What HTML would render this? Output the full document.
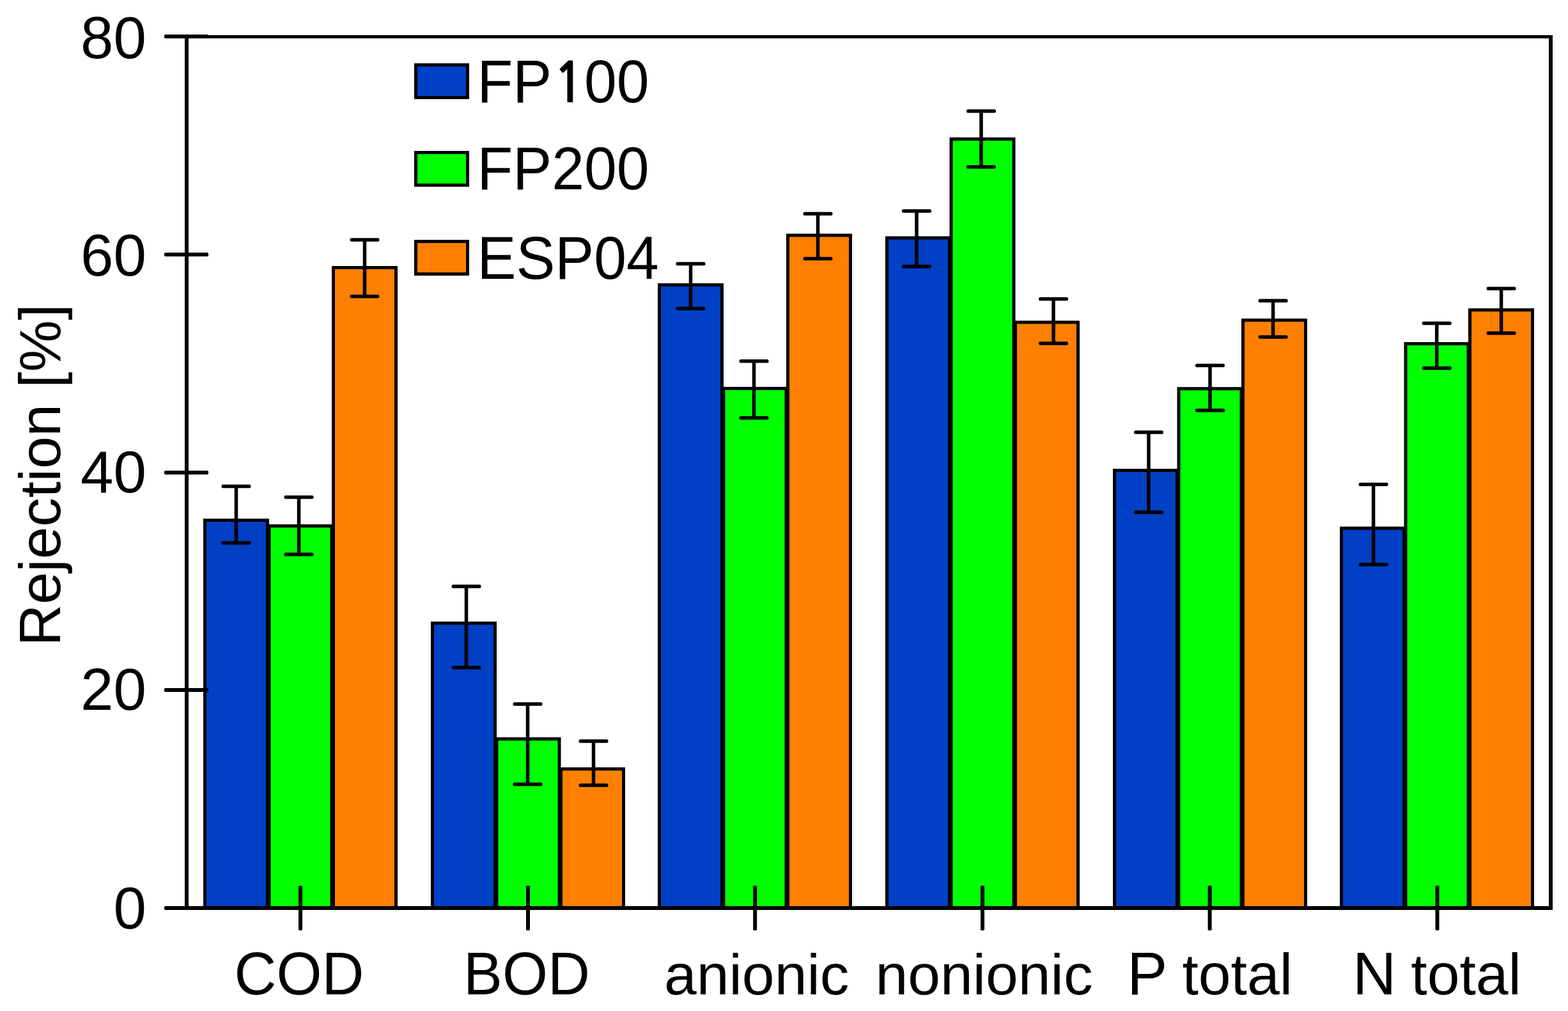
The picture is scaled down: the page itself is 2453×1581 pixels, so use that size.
<!DOCTYPE html>
<html><head><meta charset="utf-8"><title>Rejection chart</title>
<style>
html,body{margin:0;padding:0;background:#fff;}
body{width:2453px;height:1581px;overflow:hidden;}
svg{display:block;}
text{font-family:"Liberation Sans",Arial,Helvetica,sans-serif;fill:#000;}
</style></head><body>
<svg width="2453" height="1581" viewBox="0 0 2453 1581">
<rect x="0" y="0" width="2453" height="1581" fill="#fff"/>
<g stroke="#000" stroke-width="5">
<rect x="320.5" y="813.5" width="98.0" height="606.5" fill="#0040c4"/>
<rect x="421.0" y="822.5" width="98.0" height="597.5" fill="#00ff00"/>
<rect x="521.5" y="418.5" width="98.0" height="1001.5" fill="#ff8000"/>
<rect x="676.5" y="974.5" width="98.0" height="445.5" fill="#0040c4"/>
<rect x="777.0" y="1155.5" width="98.0" height="264.5" fill="#00ff00"/>
<rect x="877.5" y="1202.5" width="98.0" height="217.5" fill="#ff8000"/>
<rect x="1031.5" y="445.5" width="98.0" height="974.5" fill="#0040c4"/>
<rect x="1132.0" y="607.5" width="98.0" height="812.5" fill="#00ff00"/>
<rect x="1232.5" y="368.0" width="98.0" height="1052.0" fill="#ff8000"/>
<rect x="1387.5" y="372.0" width="98.0" height="1048.0" fill="#0040c4"/>
<rect x="1488.0" y="217.4" width="98.0" height="1202.6" fill="#00ff00"/>
<rect x="1588.5" y="504.0" width="98.0" height="916.0" fill="#ff8000"/>
<rect x="1743.5" y="735.6" width="98.0" height="684.4" fill="#0040c4"/>
<rect x="1844.0" y="607.8" width="98.0" height="812.2" fill="#00ff00"/>
<rect x="1944.5" y="500.7" width="98.0" height="919.3" fill="#ff8000"/>
<rect x="2098.5" y="826.0" width="98.0" height="594.0" fill="#0040c4"/>
<rect x="2199.0" y="537.5" width="98.0" height="882.5" fill="#00ff00"/>
<rect x="2299.5" y="484.7" width="98.0" height="935.3" fill="#ff8000"/>
</g>
<g stroke="#000" stroke-width="5.5" fill="none">
<path d="M369.5 760.5V849.0"/>
<rect x="346.5" y="757.75" width="46" height="5.5" rx="2.5" fill="#000" stroke="none"/>
<rect x="346.5" y="846.25" width="46" height="5.5" rx="2.5" fill="#000" stroke="none"/>
<path d="M467.5 777.5V867.0"/>
<rect x="444.5" y="774.75" width="46" height="5.5" rx="2.5" fill="#000" stroke="none"/>
<rect x="444.5" y="864.25" width="46" height="5.5" rx="2.5" fill="#000" stroke="none"/>
<path d="M570.5 375.0V463.5"/>
<rect x="547.5" y="372.25" width="46" height="5.5" rx="2.5" fill="#000" stroke="none"/>
<rect x="547.5" y="460.75" width="46" height="5.5" rx="2.5" fill="#000" stroke="none"/>
<path d="M729.5 917.0V1044.0"/>
<rect x="706.5" y="914.25" width="46" height="5.5" rx="2.5" fill="#000" stroke="none"/>
<rect x="706.5" y="1041.25" width="46" height="5.5" rx="2.5" fill="#000" stroke="none"/>
<path d="M825.5 1101.0V1226.5"/>
<rect x="802.5" y="1098.25" width="46" height="5.5" rx="2.5" fill="#000" stroke="none"/>
<rect x="802.5" y="1223.75" width="46" height="5.5" rx="2.5" fill="#000" stroke="none"/>
<path d="M928.5 1159.0V1228.0"/>
<rect x="905.5" y="1156.25" width="46" height="5.5" rx="2.5" fill="#000" stroke="none"/>
<rect x="905.5" y="1225.25" width="46" height="5.5" rx="2.5" fill="#000" stroke="none"/>
<path d="M1080.5 412.5V482.5"/>
<rect x="1057.5" y="409.75" width="46" height="5.5" rx="2.5" fill="#000" stroke="none"/>
<rect x="1057.5" y="479.75" width="46" height="5.5" rx="2.5" fill="#000" stroke="none"/>
<path d="M1179.5 564.7V653.5"/>
<rect x="1156.5" y="561.95" width="46" height="5.5" rx="2.5" fill="#000" stroke="none"/>
<rect x="1156.5" y="650.75" width="46" height="5.5" rx="2.5" fill="#000" stroke="none"/>
<path d="M1279.5 334.3V404.5"/>
<rect x="1256.5" y="331.55" width="46" height="5.5" rx="2.5" fill="#000" stroke="none"/>
<rect x="1256.5" y="401.75" width="46" height="5.5" rx="2.5" fill="#000" stroke="none"/>
<path d="M1434.0 330.0V416.7"/>
<rect x="1411.0" y="327.25" width="46" height="5.5" rx="2.5" fill="#000" stroke="none"/>
<rect x="1411.0" y="413.95" width="46" height="5.5" rx="2.5" fill="#000" stroke="none"/>
<path d="M1535.0 173.8V261.0"/>
<rect x="1512.0" y="171.05" width="46" height="5.5" rx="2.5" fill="#000" stroke="none"/>
<rect x="1512.0" y="258.25" width="46" height="5.5" rx="2.5" fill="#000" stroke="none"/>
<path d="M1648.0 467.5V537.0"/>
<rect x="1625.0" y="464.75" width="46" height="5.5" rx="2.5" fill="#000" stroke="none"/>
<rect x="1625.0" y="534.25" width="46" height="5.5" rx="2.5" fill="#000" stroke="none"/>
<path d="M1797.0 676.0V801.0"/>
<rect x="1774.0" y="673.25" width="46" height="5.5" rx="2.5" fill="#000" stroke="none"/>
<rect x="1774.0" y="798.25" width="46" height="5.5" rx="2.5" fill="#000" stroke="none"/>
<path d="M1893.0 571.5V641.7"/>
<rect x="1870.0" y="568.75" width="46" height="5.5" rx="2.5" fill="#000" stroke="none"/>
<rect x="1870.0" y="638.95" width="46" height="5.5" rx="2.5" fill="#000" stroke="none"/>
<path d="M1991.6 470.3V527.0"/>
<rect x="1968.6" y="467.55" width="46" height="5.5" rx="2.5" fill="#000" stroke="none"/>
<rect x="1968.6" y="524.25" width="46" height="5.5" rx="2.5" fill="#000" stroke="none"/>
<path d="M2148.6 757.4V882.8"/>
<rect x="2125.6" y="754.65" width="46" height="5.5" rx="2.5" fill="#000" stroke="none"/>
<rect x="2125.6" y="880.05" width="46" height="5.5" rx="2.5" fill="#000" stroke="none"/>
<path d="M2247.7 505.5V575.7"/>
<rect x="2224.7" y="502.75" width="46" height="5.5" rx="2.5" fill="#000" stroke="none"/>
<rect x="2224.7" y="572.95" width="46" height="5.5" rx="2.5" fill="#000" stroke="none"/>
<path d="M2348.6 451.3V521.0"/>
<rect x="2325.6" y="448.55" width="46" height="5.5" rx="2.5" fill="#000" stroke="none"/>
<rect x="2325.6" y="518.25" width="46" height="5.5" rx="2.5" fill="#000" stroke="none"/>
</g>
<g fill="#000">
<rect x="257" y="54" width="69" height="6" rx="1.8"/>
<rect x="257" y="395" width="69" height="6" rx="1.8"/>
<rect x="257" y="736" width="69" height="6" rx="1.8"/>
<rect x="257" y="1076" width="69" height="6" rx="1.8"/>
<rect x="257" y="1417" width="69" height="6" rx="1.8"/>
<rect x="467.0" y="1385" width="6" height="70" rx="1.8"/>
<rect x="823.0" y="1385" width="6" height="70" rx="1.8"/>
<rect x="1178.2" y="1385" width="6" height="70" rx="1.8"/>
<rect x="1534.0" y="1385" width="6" height="70" rx="1.8"/>
<rect x="1889.6" y="1385" width="6" height="70" rx="1.8"/>
<rect x="2245.5" y="1385" width="6" height="70" rx="1.8"/>
</g>
<path d="M289 1420H2429M292 1423V55M2426 55V1423" fill="none" stroke="#000" stroke-width="6"/>
<path d="M289 57.5H2429" fill="none" stroke="#000" stroke-width="5"/>
<text x="229" y="90.7" font-size="92.5" text-anchor="end">80</text>
<text x="229" y="431" font-size="92.5" text-anchor="end">60</text>
<text x="229" y="769.8" font-size="92.5" text-anchor="end">40</text>
<text x="229" y="1109.8" font-size="92.5" text-anchor="end">20</text>
<text x="229" y="1452" font-size="92.5" text-anchor="end">0</text>
<text transform="translate(468.0 1555) scale(1 1.035)" font-size="91.3" text-anchor="middle">COD</text>
<text transform="translate(823.9 1555) scale(1 1.035)" font-size="91.3" text-anchor="middle">BOD</text>
<text transform="translate(1183.7 1555) scale(1 0.98)" font-size="91.3" text-anchor="middle">anionic</text>
<text transform="translate(1539.5 1555) scale(1 0.98)" font-size="91.3" text-anchor="middle">nonionic</text>
<text transform="translate(1763.2 1555)" font-size="91.3"><tspan font-size="94.5">P</tspan><tspan dx="-2.13"> total</tspan></text>
<text transform="translate(2116.0 1555)" font-size="91.3"><tspan font-size="94.5">N</tspan><tspan dx="-2.31"> total</tspan></text>
<text transform="translate(94 1010.5) rotate(-90)" font-size="90.8">Rejection [%]</text>
<rect x="650.5" y="101.5" width="81" height="51" fill="#0040c4" stroke="#000" stroke-width="5"/>
<text transform="translate(746.5 160) scale(1 1.035)" font-size="91.3">FP<tspan style="font-family:NanumGothic,sans-serif;font-weight:bold" font-size="82.6" dx="1.8">1</tspan><tspan dx="-1.1">00</tspan></text>
<rect x="650.5" y="238.5" width="81" height="51" fill="#00ff00" stroke="#000" stroke-width="5"/>
<text transform="translate(746.5 296) scale(1 1.035)" font-size="91.3">FP200</text>
<rect x="650.5" y="377.5" width="81" height="51" fill="#ff8000" stroke="#000" stroke-width="5"/>
<text transform="translate(746.5 436) scale(1 1.035)" font-size="91.3">ESP04</text>
</svg>
</body></html>
